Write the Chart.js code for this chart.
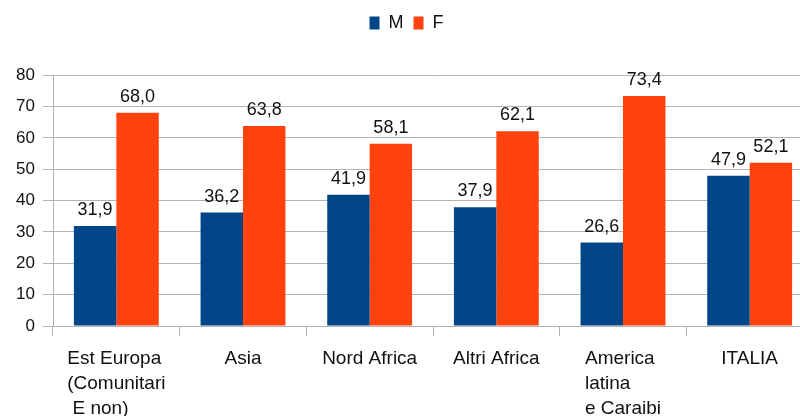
<!DOCTYPE html>
<html>
<head>
<meta charset="utf-8">
<script src="https://cdn.jsdelivr.net/npm/chart.js@4/dist/chart.umd.min.js"></script>
<style>
  body { margin: 0; background: #fff; overflow: hidden; }
  #wrap { width: 813px; height: 416px; }
</style>
</head>
<body>
<div id="wrap"><canvas id="chart"></canvas></div>
<script>
const categories = [
  ["Est Europa", "(Comunitari", " E non)"],
  ["Asia"],
  ["Nord Africa"],
  ["Altri Africa"],
  ["America", "latina", "e Caraibi"],
  ["ITALIA"],
];
const maschi = [31.9, 36.2, 41.9, 37.9, 26.6, 47.9];
const femmine = [68.0, 63.8, 58.1, 62.1, 73.4, 52.1];
const yTicks = [0, 10, 20, 30, 40, 50, 60, 70, 80];

const gridColor = "#b3b3b3";
const fontFamily = "'Liberation Sans', Arial, sans-serif";

// etichette dei valori sopra le barre
const valueLabels = {
  id: "valueLabels",
  afterDatasetsDraw(chart) {
    const ctx = chart.ctx;
    ctx.save();
    ctx.font = "18px " + fontFamily;
    ctx.fillStyle = "#111";
    ctx.textAlign = "center";
    ctx.textBaseline = "alphabetic";
    chart.data.datasets.forEach((ds, i) => {
      chart.getDatasetMeta(i).data.forEach((bar, j) => {
        const txt = ds.data[j].toFixed(1).replace(".", ",");
        ctx.fillText(txt, bar.x, bar.y - 11);
      });
    });
    ctx.restore();
  },
};

// etichette delle categorie, allineate a sinistra e centrate come blocco
const categoryLabels = {
  id: "categoryLabels",
  afterDraw(chart) {
    const ctx = chart.ctx;
    const xs = chart.scales.x;
    ctx.save();
    ctx.font = "19px " + fontFamily;
    ctx.fillStyle = "#111";
    ctx.textAlign = "left";
    ctx.textBaseline = "alphabetic";
    categories.forEach((lines, i) => {
      const cx = xs.getPixelForTick(i);
      const w = Math.max(...lines.map((l) => ctx.measureText(l).width));
      lines.forEach((l, k) => {
        ctx.fillText(l, cx - w / 2, xs.top + 38 + k * 25);
      });
    });
    ctx.restore();
  },
};

new Chart(document.getElementById("chart"), {
  type: "bar",
  data: {
    labels: categories,
    datasets: [
      {
        label: "M",
        data: maschi,
        backgroundColor: "#004586",
        categoryPercentage: 0.67,
        barPercentage: 1,
      },
      {
        label: "F",
        data: femmine,
        backgroundColor: "#ff420e",
        categoryPercentage: 0.67,
        barPercentage: 1,
      },
    ],
  },
  options: {
    responsive: true,
    maintainAspectRatio: false,
    animation: false,
    layout: { padding: { top: 4, left: 0, right: 0, bottom: 0 } },
    plugins: {
      legend: {
        position: "top",
        labels: {
          boxWidth: 10,
          boxHeight: 13,
          padding: 10,
          color: "#111",
          font: { family: fontFamily, size: 18 },
        },
      },
      title: {
        display: true,
        text: "",
        weight: 500,
        font: { size: 1 },
        padding: { top: 0, bottom: 32 },
      },
      tooltip: { enabled: false },
    },
    scales: {
      x: {
        afterFit(scale) {
          scale.height = 90;
        },
        grid: {
          drawOnChartArea: false,
          drawTicks: true,
          tickLength: 10,
          color: gridColor,
          offset: true,
        },
        border: { color: gridColor, width: 1 },
        ticks: { color: "transparent", font: { family: fontFamily, size: 19 } },
      },
      y: {
        min: 0,
        max: 80,
        afterFit(scale) {
          scale.width = 53;
        },
        afterBuildTicks(scale) {
          scale.ticks = yTicks.map((v) => ({ value: v }));
        },
        grid: { color: gridColor, tickLength: 10 },
        border: { color: gridColor, width: 1 },
        ticks: {
          color: "#111",
          padding: 8,
          font: { family: fontFamily, size: 17 },
        },
      },
    },
  },
  plugins: [valueLabels, categoryLabels],
});
</script>
</body>
</html>
